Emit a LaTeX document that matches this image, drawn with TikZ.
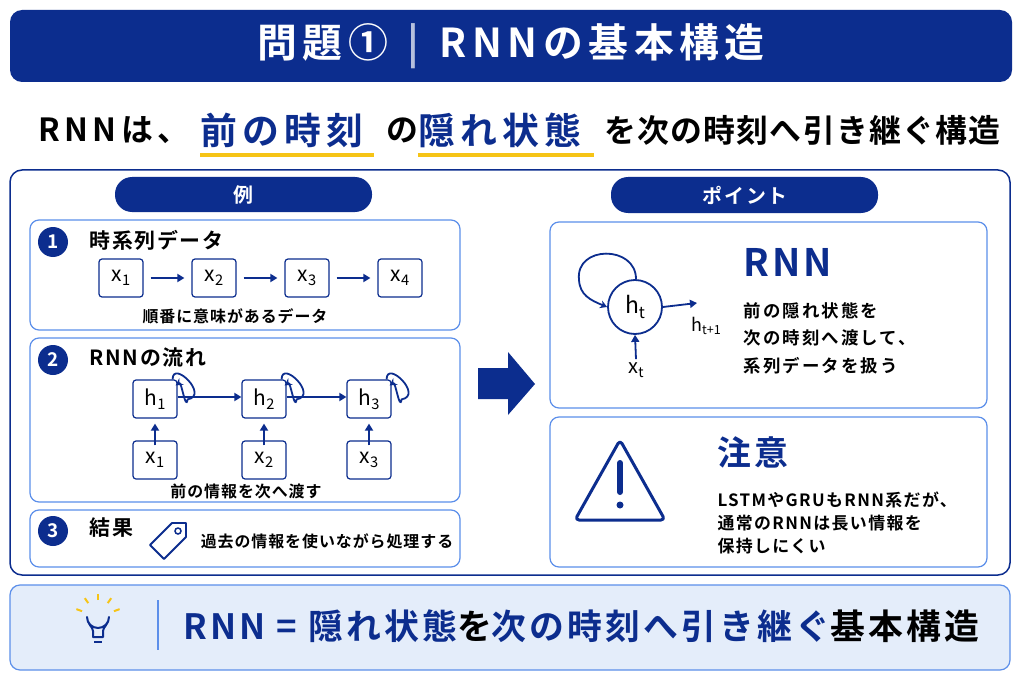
\documentclass[tikz,border=0pt]{standalone}
\usepackage{fontspec}
\setmainfont{Noto Sans CJK JP}[BoldFont={* Bold}]
\usetikzlibrary{arrows.meta,positioning}
\definecolor{navy}{HTML}{0C2D8E}
\definecolor{lblue}{HTML}{5C8FEA}
\definecolor{pale}{HTML}{E4EDFA}
\definecolor{ylw}{HTML}{F6C416}
\newcommand{\fs}[2]{\fontsize{#1}{#1}\selectfont\addfontfeature{LetterSpace=#2}}
\newcommand{\subidx}[1]{\raisebox{-0.35ex}{\scalebox{0.7}{#1}}}
\begin{document}
\begin{tikzpicture}[x=1bp,y=-1bp,font=\bfseries,
  card/.style={draw=lblue,line width=1.2bp,rounded corners=9bp,fill=white},
  pill/.style={fill=navy,rounded corners=17bp,text=white},
  xbox/.style={draw=navy,line width=1.2bp,rounded corners=3bp,minimum width=44bp,minimum height=38bp,inner sep=0pt,font=\fs{21}{0}\mdseries},
  num/.style={circle,fill=navy,text=white,minimum size=30bp,inner sep=0pt,font=\fs{19}{0}\bfseries},
  subpart/.style={anchor=west,inner sep=0pt,font=\fs{32}{4}\bfseries},
  keypart/.style={subpart,text=navy,font=\fs{37}{14}\bfseries},
  flow/.style={-{Triangle[length=7bp,width=8bp]},navy,line width=1.8bp},
  loop/.style={-{Stealth[length=7bp,width=8bp]},navy,line width=1.8bp}]
\useasboundingbox[fill=white] (0,0) rectangle (1024,683);

% title bar
\fill[navy,rounded corners=12bp] (10,10) rectangle (1012,82);
\node[text=white,font=\fs{40}{14}\bfseries] (title) at (511,46) {問題①\enspace\textcolor{white!70!navy}{|}\enspace RNNの基本構造};

% subtitle
\node[subpart,font=\fs{32}{14}\bfseries] (p1) at (38,130) {RNNは、};
\node[keypart] (p2) at (200,130) {前の時刻};
\node[subpart] (p3) at (386,130) {の};
\node[keypart] (p4) at (418,130) {隠れ状態};
\node[subpart] (p5) at (604,130) {を次の時刻へ引き継ぐ構造};
\fill[ylw] (200,153) rectangle (374,157);
\fill[ylw] (418,153) rectangle (594,157);

% main panel
\draw[navy,line width=1.5bp,rounded corners=12bp] (10,170) rectangle (1010,575);
\fill[pill] (115,177) rectangle (372,212);
\node[text=white,font=\fs{20}{6}\bfseries] (ex) at (243,195) {例};
\fill[pill] (611,177) rectangle (878,213);
\node[text=white,font=\fs{20}{10}\bfseries] (pt) at (745,195) {ポイント};

% example cards
\draw[card] (30,220) rectangle (460,330);
\draw[card] (30,338) rectangle (460,502);
\draw[card] (30,510) rectangle (460,567);

\node[num] (n1) at (53,242) {1};
\node[font=\fs{21}{8}\bfseries,anchor=west] (t1) at (86,240) {時系列データ};
\foreach \i/\x in {1/121,2/214,3/307,4/400}
  \node[xbox] (s\i) at (\x,278) {x\subidx{\i}};
\foreach \a/\b in {1/2,2/3,3/4}
  \draw[flow] ([xshift=7bp]s\a.east) -- ([xshift=-7bp]s\b.west);
\node[font=\fs{16}{6}\bfseries] (c1) at (235,316) {順番に意味があるデータ};

\node[num] (n2) at (53,360) {2};
\node[font=\fs{21}{8}\bfseries,anchor=west] (t2) at (86,358) {RNNの流れ};
\foreach \i/\x in {1/155,2/264,3/369} {
  \node[xbox] (h\i) at (\x,399) {h\subidx{\i}};
  \node[xbox] (x\i) at (\x,460) {x\subidx{\i}};
  \draw[flow] ([yshift=-5bp]x\i.north) -- ([yshift=-5bp]h\i.south);
  \draw[loop] ([xshift=-5bp]h\i.north east) .. controls +(0,-20) and +(22,-4) .. ([xshift=10bp,yshift=-20bp]h\i.north east)
    .. controls +(-2,12) and +(6,-4) .. ([xshift=-2bp,yshift=-6bp]h\i.north east);
}
\draw[flow] ([yshift=2bp]h1.east) -- ([yshift=2bp]h2.west);
\draw[flow] ([yshift=2bp]h2.east) -- ([yshift=2bp]h3.west);
\node[font=\fs{16}{6}\bfseries] (c2) at (246,491) {前の情報を次へ渡す};

\node[num] (n3) at (53,531) {3};
\node[font=\fs{21}{8}\bfseries,anchor=west] (t3) at (86,528) {結果};
\draw[navy,line width=1.8bp,line join=round] (150,545) -- (172,523) -- (186,523) -- (186,537) -- (164,559) -- cycle;
\draw[navy,line width=1.5bp] (178,531) circle (3bp);
\node[font=\fs{16}{6}\bfseries] (c3) at (327,541) {過去の情報を使いながら処理する};

% big arrow
\fill[navy] (478,368) -- (508,368) -- (508,352) -- (535,384) -- (508,415) -- (508,399) -- (478,399) -- cycle;

% point cards
\draw[card] (550,222) rectangle (987,408);
\node[circle,draw=navy,line width=1.8bp,minimum size=54bp,inner sep=0pt,font=\fs{23}{0}] (ht) at (635,307) {h\subidx{t}};
\coordinate (out) at (697,303);
\node[font=\fs{18}{0}] (hn) at (706,326) {h\subidx{t+1}};
\node[font=\fs{20}{0}] (xt) at (636,370) {x\subidx{t}};
\draw[flow] (ht.east) -- (out);
\draw[flow] (xt.north) -- (ht.south);
\draw[loop] (636,279) .. controls (636,245) and (575,245) .. (579,280) .. controls (580,295) and (590,300) .. (ht.west);
\node[text=navy,font=\fs{38}{8}\bfseries,anchor=west] (rnn) at (740,262) {RNN};
\node[font=\fs{17.5}{12}\bfseries,anchor=west,align=left] (rtxt) at (740,338)
  {前の隠れ状態を\\[10bp]次の時刻へ渡して、\\[10bp]系列データを扱う};

\draw[card] (550,417) rectangle (987,567);
\draw[navy,line width=3bp,line join=round,rounded corners=4bp] (620,440) -- (665,520) -- (575,520) -- cycle;
\draw[navy,line width=6bp,line cap=round] (620,463) -- (620,492);
\fill[navy] (620,505) circle (3.5bp);
\node[text=navy,font=\fs{34}{10}\bfseries,anchor=west] (warn) at (714,452) {注意};
\node[font=\fs{17}{8}\bfseries,anchor=west,align=left] (wtxt) at (714,523)
  {LSTMやGRUもRNN系だが、\\[6bp]通常のRNNは長い情報を\\[6bp]保持しにくい};

% bottom summary
\draw[lblue,line width=1.2bp,fill=pale,rounded corners=10bp] (10,585) rectangle (1010,670);
\draw[navy,line width=2bp,line join=round] (93,637) -- (93,631) .. controls (93,627) and (87,624) .. (87,617)
  arc[start angle=180,end angle=0,radius=11] .. controls (109,624) and (103,627) .. (103,631) -- (103,637) -- cycle;
\draw[navy,line width=2bp] (94,642) -- (102,642);
\foreach \ang in {20,55,90,125,160}
  \draw[ylw,line width=2bp] (98,617) ++(\ang:-17) -- ++(\ang:-6);
\draw[lblue,line width=1.5bp] (158,600) -- (158,650);
\node[font=\fs{35}{9}\bfseries,anchor=west,inner sep=0pt] (sum) at (183,626)
  {\textcolor{navy}{RNN = 隠れ状態}を\textcolor{navy}{次の時刻へ引き継ぐ}基本構造};
\end{tikzpicture}
\end{document}
